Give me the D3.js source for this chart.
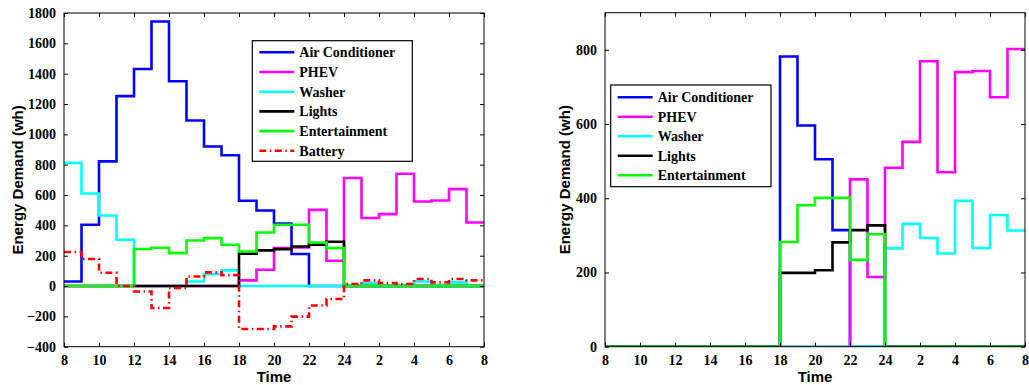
<!DOCTYPE html>
<html><head><meta charset="utf-8">
<script src="https://cdn.jsdelivr.net/npm/d3@7"></script>
<style>
body{margin:0;background:#fff;}
svg{display:block;}
.tick text{font-family:"Liberation Serif","Times New Roman",serif;font-weight:bold;font-size:14px;fill:#000;}
</style></head>
<body>
<svg id="chart" width="1029" height="385"></svg>
<script>
// hour start of each step (8 AM through 7 AM next day); last step ends at 32 (= 8 AM)
const hours = [8,9,10,11,12,13,14,15,16,17,18,19,20,21,22,23,24,25,26,27,28,29,30,31];
const xTickValues = [8,10,12,14,16,18,20,22,24,26,28,30,32];
const xTickLabels = ["8","10","12","14","16","18","20","22","24","2","4","6","8"];

// Left chart (with battery)
const leftAC      = [30,404,822,1252,1431,1744,1350,1091,920,862,562,498,412,211,0,0,0,0,0,0,0,0,0,0];
const leftPHEV    = [0,0,0,0,0,0,0,0,0,0,37,107,250,255,502,167,712,448,474,740,557,564,639,419];
const leftWasher  = [812,610,465,305,0,0,0,30,79,103,0,0,0,0,0,0,0,20,0,0,30,0,24,0];
const leftLights  = [0,0,0,0,0,0,0,0,0,0,213,235,243,261,272,292,0,0,0,0,0,0,0,0];
const leftEnt     = [0,0,0,0,244,252,217,300,316,272,228,353,404,404,287,250,0,0,0,0,0,0,0,0];
const leftBattery = [224,178,88,0,-36,-145,-13,63,90,72,-283,-283,-266,-202,-128,-86,13,37,20,13,46,24,46,37];
const leftYTicks  = [-400,-200,0,200,400,600,800,1000,1200,1400,1600,1800];

// Right chart (no battery)
const rightAC     = [0,0,0,0,0,0,0,0,0,0,782,596,505,314,0,0,0,0,0,0,0,0,0,0];
const rightPHEV   = [0,0,0,0,0,0,0,0,0,0,0,0,0,0,451,188,482,552,769,470,740,743,672,802];
const rightWasher = [0,0,0,0,0,0,0,0,0,0,0,0,0,0,0,0,265,331,293,251,393,266,355,313];
const rightLights = [0,0,0,0,0,0,0,0,0,0,199,199,206,281,314,327,0,0,0,0,0,0,0,0];
const rightEnt    = [0,0,0,0,0,0,0,0,0,0,282,381,401,401,234,303,0,0,0,0,0,0,0,0];
const rightYTicks = [0,200,400,600,800];

const seriesNames  = ["Air Conditioner","PHEV","Washer","Lights","Entertainment","Battery"];
const seriesColors = ["#0000ff","#ff00ff","#00ffff","#000000","#00ff00","#ff0000"];

const svg = d3.select("#chart");

function drawPanel(cfg){
  const g = svg.append("g");
  const x = d3.scaleLinear().domain([8,32]).range([cfg.x0,cfg.x1]);
  const y = d3.scaleLinear().domain(cfg.yDomain).range([cfg.y1,cfg.y0]);

  const line = d3.line().x(d=>x(d[0])).y(d=>y(d[1])).curve(d3.curveStepAfter);
  const clip = "clip"+cfg.id;
  svg.append("clipPath").attr("id",clip).append("rect")
    .attr("x",cfg.x0).attr("y",cfg.y0).attr("width",cfg.x1-cfg.x0).attr("height",cfg.y1-cfg.y0);

  cfg.series.forEach((vals,i)=>{
    const pts = hours.map((h,j)=>[h,vals[j]]);
    pts.push([32, vals[vals.length-1]]);
    const p = g.append("path").attr("d",line(pts)).attr("fill","none")
      .attr("stroke",seriesColors[i]).attr("stroke-width",2.6)
      .attr("stroke-linejoin","miter").attr("clip-path","url(#"+clip+")");
    if(i===5) p.attr("stroke-dasharray","7,3.5,1.5,3.5");
  });

  // frame
  g.append("rect").attr("x",cfg.x0).attr("y",cfg.y0).attr("width",cfg.x1-cfg.x0)
    .attr("height",cfg.y1-cfg.y0).attr("fill","none").attr("stroke","#000").attr("stroke-width",1);

  const fmt = (d,i)=>xTickLabels[i];
  g.append("g").attr("transform",`translate(0,${cfg.y1})`)
    .call(d3.axisBottom(x).tickValues(xTickValues).tickFormat(fmt).tickSizeInner(-4).tickSizeOuter(0).tickPadding(8))
    .call(a=>a.select(".domain").remove());
  g.append("g").attr("transform",`translate(0,${cfg.y0})`)
    .call(d3.axisTop(x).tickValues(xTickValues).tickFormat("").tickSizeInner(-4).tickSizeOuter(0))
    .call(a=>a.select(".domain").remove());
  g.append("g").attr("transform",`translate(${cfg.x0},0)`)
    .call(d3.axisLeft(y).tickValues(cfg.yTicks).tickFormat(d=>d<0?"\u2212"+(-d):d).tickSizeInner(-4).tickSizeOuter(0).tickPadding(8))
    .call(a=>a.select(".domain").remove());
  g.append("g").attr("transform",`translate(${cfg.x1},0)`)
    .call(d3.axisRight(y).tickValues(cfg.yTicks).tickFormat("").tickSizeInner(-4).tickSizeOuter(0))
    .call(a=>a.select(".domain").remove());
  g.selectAll(".tick line").attr("stroke","#000");

  // axis titles
  g.append("text").attr("x",(cfg.x0+cfg.x1)/2).attr("y",382).attr("text-anchor","middle")
    .attr("font-family","Liberation Sans, Arial, sans-serif").attr("font-weight","bold").attr("font-size",15)
    .text("Time");
  g.append("text").attr("transform",`translate(${cfg.titleX},${(cfg.y0+cfg.y1)/2}) rotate(-90)`)
    .attr("text-anchor","middle")
    .attr("font-family","Liberation Sans, Arial, sans-serif").attr("font-weight","bold").attr("font-size",15)
    .text("Energy Demand (wh)");

  // legend
  const L = cfg.legend;
  const lg = g.append("g");
  lg.append("rect").attr("x",L.x).attr("y",L.y).attr("width",L.w).attr("height",L.h)
    .attr("fill","#fff").attr("stroke","#000").attr("stroke-width",1.2);
  cfg.series.forEach((v,i)=>{
    const yy = L.y + L.first + i*L.step;
    const ln = lg.append("line").attr("x1",L.x+7).attr("x2",L.x+42).attr("y1",yy).attr("y2",yy)
      .attr("stroke",seriesColors[i]).attr("stroke-width",2.6);
    if(i===5) ln.attr("stroke-dasharray","7,3.5,1.5,3.5");
    lg.append("text").attr("x",L.x+47).attr("y",yy+5)
      .attr("font-family","Liberation Serif, Times New Roman, serif").attr("font-weight","bold").attr("font-size",14)
      .text(seriesNames[i]);
  });
}

drawPanel({id:"L",x0:64,x1:484,y0:13,y1:346.7,yDomain:[-400,1800],yTicks:leftYTicks,titleX:23,
  series:[leftAC,leftPHEV,leftWasher,leftLights,leftEnt,leftBattery],
  legend:{x:252.3,y:40.7,w:160,h:120.6,first:11.6,step:19.7}});
drawPanel({id:"R",x0:605,x1:1025,y0:12.7,y1:346.7,yDomain:[0,900],yTicks:rightYTicks,titleX:570,
  series:[rightAC,rightPHEV,rightWasher,rightLights,rightEnt],
  legend:{x:610.7,y:85,w:160.3,h:101.7,first:12.3,step:19.5}});
</script>
</body></html>
